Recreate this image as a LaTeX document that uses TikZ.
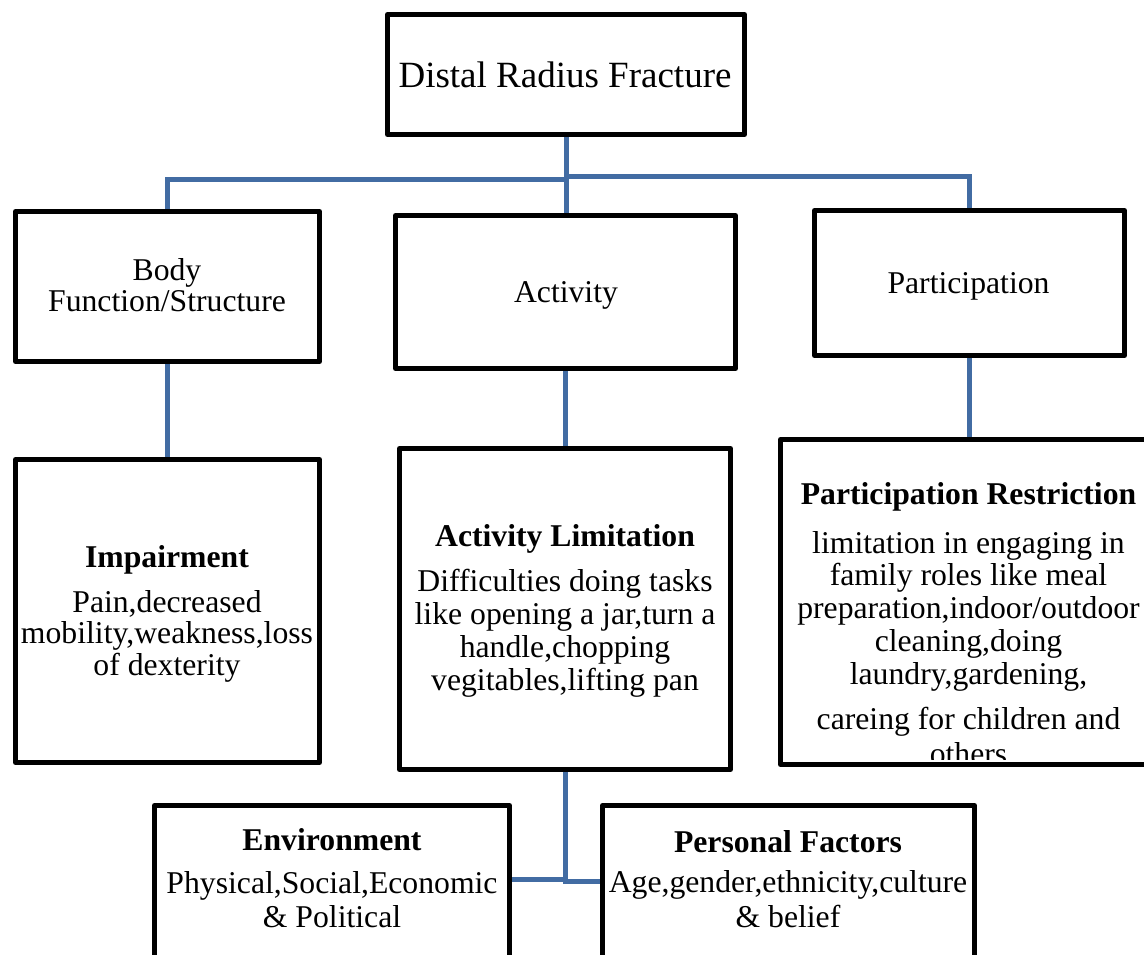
\documentclass[tikz,border=0pt]{standalone}
\usepackage{fontspec}
\setmainfont{Liberation Serif}
\usetikzlibrary{backgrounds}
\definecolor{linkblue}{RGB}{66,108,163}

\begin{document}
\begin{tikzpicture}[x=1pt,y=-1pt,
  box/.style={draw=black, line width=5pt, line join=round, inner sep=0pt},
  link/.style={draw=linkblue, line width=5pt},
  txt/.style={inner sep=0pt, align=center, anchor=base,
              font=\fontsize{31.7}{32.7}\selectfont}]
\useasboundingbox (0,0) rectangle (1144,954);
\clip (0,0) rectangle (1144,954);

% ---- texts (each placed by the baseline of its last line) ----
\node[txt, font=\fontsize{37}{40}\selectfont] (top-t) at (565,87) {Distal Radius Fracture};
\node[txt, font=\fontsize{31.7}{31}\selectfont] (body-t) at (167,311) {Body\\Function/Structure};
\node[txt] (act-t) at (566,302) {Activity};
\node[txt] (part-t) at (968.5,293) {Participation};
\node[txt, font=\fontsize{31.7}{31.5}\selectfont] (imp-t) at (167,675)
  {\textbf{Impairment}\\[13.5pt]Pain,decreased\\mobility,weakness,loss\\of dexterity};
\node[txt] (al-t) at (565,690)
  {\textbf{Activity Limitation}\\[12.3pt]Difficulties doing tasks\\like opening a jar,turn a\\handle,chopping\\vegitables,lifting pan};
\begin{scope}
  \clip (778,437) rectangle (1160,759);
  \node[txt] (pr-t) at (968.5,764)
    {\textbf{Participation Restriction}\\[16.3pt]limitation in engaging in\\family roles like meal\\preparation,indoor/outdoor\\cleaning,doing\\laundry,gardening,\\[12.3pt]careing for children and\\[2.3pt]others};
\end{scope}
\node[txt, font=\fontsize{31.7}{34}\selectfont] (env-t) at (332,927)
  {\textbf{Environment}\\[9pt]Physical,Social,Economic\\\&~Political};
\node[txt, font=\fontsize{31.7}{35}\selectfont] (pf-t) at (788,927)
  {\textbf{Personal Factors}\\[5pt]Age,gender,ethnicity,culture\\\&~belief};

% ---- boxes ----
\node[box, minimum width=357pt, minimum height=120pt] (top) at (566,74.5) {};
\node[box, minimum width=304pt, minimum height=150pt] (body) at (167.5,286.5) {};
\node[box, minimum width=340pt, minimum height=153pt] (act) at (565.5,292) {};
\node[box, minimum width=310pt, minimum height=145pt] (part) at (969.5,283) {};
\node[box, minimum width=304pt, minimum height=303pt] (imp) at (167.5,611) {};
\node[box, minimum width=331pt, minimum height=321pt] (al) at (565,609) {};
\node[box, minimum width=375pt, minimum height=325pt] (pr) at (968,602) {};
\node[box, minimum width=355pt, minimum height=197pt] (env) at (332,904) {};
\node[box, minimum width=372pt, minimum height=197pt] (pf) at (788.5,904) {};

% ---- connectors ----
\coordinate (jl) at (566,179);
\coordinate (jr) at (566,176);
\coordinate (jb) at (565,879);
\coordinate (jb2) at (565,881);
\begin{scope}[on background layer]
  \draw[link] (top.south) -- (top.south |- act.north);
  \draw[link] (top.south |- jl) -| (body.north);
  \draw[link] (top.south |- jr) -| (part.north);
  \draw[link] (body.south) -- (imp.north);
  \draw[link] (act.south) -- (act.south |- al.north);
  \draw[link] (part.south) -- (part.south |- pr.north);
  \draw[link] (al.south) -- (jb2) -- (jb2 -| pf.west);
  \draw[link] (jb) -- (jb -| env.east);
\end{scope}
\end{tikzpicture}
\end{document}
